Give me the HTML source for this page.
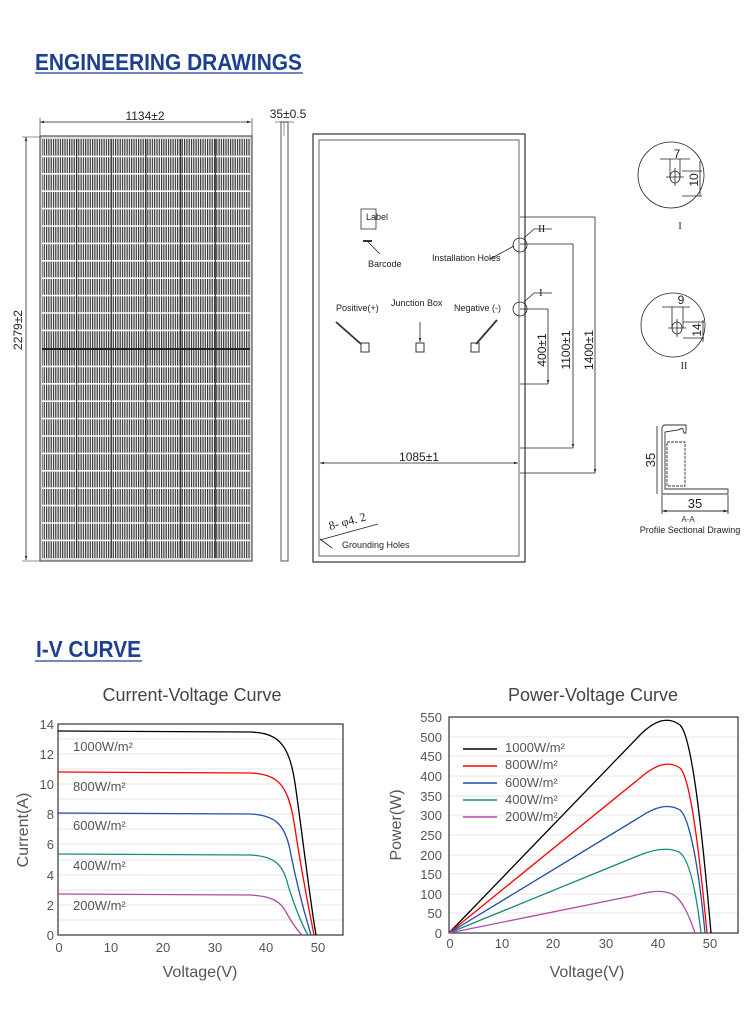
<!DOCTYPE html>
<html><head><meta charset="utf-8"><style>
html,body{margin:0;padding:0;background:#fff;}
svg{display:block;}
</style></head><body>
<svg width="750" height="1031" viewBox="0 0 750 1031" xmlns="http://www.w3.org/2000/svg" font-family="Liberation Sans, sans-serif">
<defs>
<pattern id="st" width="2.3" height="4" patternUnits="userSpaceOnUse">
<rect width="2.3" height="4" fill="#fff"/><rect width="1.2" height="4" fill="#333"/>
</pattern>
<marker id="ar" viewBox="0 0 10 10" refX="10" refY="5" markerWidth="5" markerHeight="5" orient="auto-start-reverse"><path d="M0,2 L10,5 L0,8z" fill="#222"/></marker>
</defs>

<!-- headings -->
<text x="35" y="70" font-size="23" font-weight="bold" fill="#1c3f93" textLength="267" lengthAdjust="spacingAndGlyphs">ENGINEERING DRAWINGS</text>
<rect x="35" y="72" width="268" height="2" fill="#7187bd"/>
<text x="36" y="657" font-size="23" font-weight="bold" fill="#1c3f93" textLength="105" lengthAdjust="spacingAndGlyphs">I-V CURVE</text>
<rect x="35" y="660" width="107" height="2" fill="#7187bd"/>

<!-- front panel -->
<g stroke="#222" fill="none">
<line x1="40" y1="122" x2="251" y2="122" stroke-width="0.8" marker-start="url(#ar)" marker-end="url(#ar)"/>
<line x1="40" y1="118" x2="40" y2="136" stroke-width="0.6"/>
<line x1="252" y1="118" x2="252" y2="136" stroke-width="0.6"/>
<line x1="26" y1="137" x2="26" y2="560" stroke-width="0.8" marker-start="url(#ar)" marker-end="url(#ar)"/>
<line x1="22" y1="137" x2="40" y2="137" stroke-width="0.6"/>
<line x1="22" y1="561" x2="40" y2="561" stroke-width="0.6"/>
</g>
<text x="145" y="120" font-size="12" text-anchor="middle" fill="#222">1134±2</text>
<text transform="translate(22,330) rotate(-90)" font-size="12" text-anchor="middle" fill="#222">2279±2</text>
<rect x="40" y="136" width="212" height="425" fill="#ddd" stroke="#555" stroke-width="1.2"/>
<rect x="42" y="139" width="208" height="419" fill="url(#st)"/>
<g stroke="#fff" stroke-width="1.6">
<line x1="42" y1="156.4" x2="250" y2="156.4"/><line x1="42" y1="173.8" x2="250" y2="173.8"/><line x1="42" y1="191.2" x2="250" y2="191.2"/><line x1="42" y1="208.6" x2="250" y2="208.6"/><line x1="42" y1="226" x2="250" y2="226"/><line x1="42" y1="243.4" x2="250" y2="243.4"/><line x1="42" y1="260.8" x2="250" y2="260.8"/><line x1="42" y1="278.2" x2="250" y2="278.2"/><line x1="42" y1="295.6" x2="250" y2="295.6"/><line x1="42" y1="313" x2="250" y2="313"/><line x1="42" y1="330.4" x2="250" y2="330.4"/>
<line x1="42" y1="366.4" x2="250" y2="366.4"/><line x1="42" y1="383.8" x2="250" y2="383.8"/><line x1="42" y1="401.2" x2="250" y2="401.2"/><line x1="42" y1="418.6" x2="250" y2="418.6"/><line x1="42" y1="436" x2="250" y2="436"/><line x1="42" y1="453.4" x2="250" y2="453.4"/><line x1="42" y1="470.8" x2="250" y2="470.8"/><line x1="42" y1="488.2" x2="250" y2="488.2"/><line x1="42" y1="505.6" x2="250" y2="505.6"/><line x1="42" y1="523" x2="250" y2="523"/><line x1="42" y1="540.4" x2="250" y2="540.4"/>
</g>
<g stroke="#222" stroke-width="1">
<line x1="76.7" y1="139" x2="76.7" y2="558"/><line x1="111.3" y1="139" x2="111.3" y2="558"/><line x1="146" y1="139" x2="146" y2="558"/><line x1="180.7" y1="139" x2="180.7" y2="558"/><line x1="215.3" y1="139" x2="215.3" y2="558"/>
</g>
<line x1="42" y1="349" x2="250" y2="349" stroke="#222" stroke-width="2"/>

<!-- side view -->
<rect x="281" y="122" width="7" height="439" fill="#fff" stroke="#555" stroke-width="1"/>
<line x1="284" y1="122" x2="284" y2="136" stroke="#555" stroke-width="0.6"/>
<line x1="275" y1="122" x2="294" y2="122" stroke="#222" stroke-width="0.6"/>
<text x="288" y="118" font-size="12" text-anchor="middle" fill="#222">35±0.5</text>

<!-- back panel -->
<rect x="313" y="134" width="212" height="428" fill="#fff" stroke="#333" stroke-width="1.2"/>
<rect x="319" y="140" width="200" height="416" fill="#fff" stroke="#555" stroke-width="0.9"/>
<rect x="361" y="209" width="15" height="20" fill="#fff" stroke="#333" stroke-width="0.8"/>
<text x="366" y="220" font-size="9" fill="#222">Label</text>
<rect x="363" y="240" width="9" height="2" fill="#333"/>
<line x1="368" y1="242" x2="380" y2="254" stroke="#222" stroke-width="0.8"/>
<text x="368" y="267" font-size="9" fill="#222">Barcode</text>
<text x="432" y="261" font-size="9" fill="#222">Installation Holes</text>
<line x1="490" y1="259" x2="514" y2="246" stroke="#222" stroke-width="0.8"/>
<text x="336" y="311" font-size="9" fill="#222">Positive(+)</text>
<text x="391" y="306" font-size="9" fill="#222">Junction Box</text>
<text x="454" y="311" font-size="9" fill="#222">Negative (-)</text>
<line x1="420" y1="322" x2="420" y2="342" stroke="#222" stroke-width="0.8" marker-end="url(#ar)"/>
<g fill="#fff" stroke="#333" stroke-width="1">
<rect x="361" y="343" width="8" height="9"/><rect x="416" y="343" width="8" height="9"/><rect x="471" y="343" width="8" height="9"/>
</g>
<g stroke="#333" stroke-width="1.8">
<line x1="336" y1="322" x2="361" y2="344"/><line x1="497" y1="320" x2="476" y2="344"/>
</g>
<g stroke="#222" stroke-width="0.8" fill="none">
<circle cx="520" cy="245" r="7"/><circle cx="520" cy="309" r="7"/>
<polyline points="524,238 534,229 552,229"/><polyline points="524,302 534,293 552,293"/>
<line x1="520" y1="217" x2="595" y2="217"/>
<line x1="595" y1="217" x2="595" y2="473" marker-end="url(#ar)"/>
<line x1="520" y1="473" x2="595" y2="473"/>
<line x1="520" y1="244" x2="573" y2="244"/>
<line x1="573" y1="244" x2="573" y2="448" marker-end="url(#ar)"/>
<line x1="520" y1="448" x2="573" y2="448"/>
<line x1="520" y1="309" x2="548" y2="309"/>
<line x1="548" y1="309" x2="548" y2="384" marker-end="url(#ar)"/>
<line x1="520" y1="384" x2="548" y2="384"/>
<line x1="320" y1="463" x2="518" y2="463" marker-start="url(#ar)" marker-end="url(#ar)"/>
<line x1="320" y1="540" x2="378" y2="524"/>
<line x1="320" y1="539" x2="332" y2="548"/>
</g>
<text x="538" y="232" font-size="11" font-family="Liberation Serif, serif" fill="#222">II</text>
<text x="539" y="296" font-size="11" font-family="Liberation Serif, serif" fill="#222">I</text>
<text transform="translate(546,350) rotate(-90)" font-size="12" text-anchor="middle" fill="#222">400±1</text>
<text transform="translate(570,350) rotate(-90)" font-size="12" text-anchor="middle" fill="#222">1100±1</text>
<text transform="translate(593,350) rotate(-90)" font-size="12" text-anchor="middle" fill="#222">1400±1</text>
<text x="419" y="461" font-size="12" text-anchor="middle" fill="#222">1085±1</text>
<text transform="translate(330,530) rotate(-15)" font-size="12" font-family="Liberation Serif, serif" fill="#222">8- φ4. 2</text>
<text x="342" y="548" font-size="9" fill="#222">Grounding Holes</text>

<!-- details -->
<g stroke="#222" fill="none" stroke-width="0.8">
<circle cx="671" cy="175" r="33"/>
<ellipse cx="675" cy="177" rx="5" ry="6"/>
<line x1="666" y1="177" x2="684" y2="177"/><line x1="675" y1="168" x2="675" y2="186"/>
<line x1="660" y1="159" x2="690" y2="159"/>
<line x1="670" y1="159" x2="670" y2="177"/><line x1="680" y1="159" x2="680" y2="177"/>
<line x1="682" y1="171" x2="702" y2="171"/><line x1="682" y1="196" x2="702" y2="196"/>
<line x1="700" y1="161" x2="700" y2="196"/>
<circle cx="673" cy="325" r="32"/>
<ellipse cx="677" cy="328" rx="5" ry="6"/>
<line x1="668" y1="328" x2="686" y2="328"/><line x1="677" y1="319" x2="677" y2="337"/>
<line x1="662" y1="307" x2="690" y2="307"/>
<line x1="672" y1="307" x2="672" y2="328"/><line x1="683" y1="307" x2="683" y2="328"/>
<line x1="683" y1="322" x2="704" y2="322"/><line x1="683" y1="338" x2="704" y2="338"/>
<line x1="703" y1="320" x2="703" y2="342"/>
</g>
<text x="677" y="158" font-size="12" text-anchor="middle" fill="#222">7</text>
<text transform="translate(698,180) rotate(-90)" font-size="12" text-anchor="middle" fill="#222">10</text>
<text x="681" y="304" font-size="12" text-anchor="middle" fill="#222">9</text>
<text transform="translate(701,330) rotate(-90)" font-size="12" text-anchor="middle" fill="#222">14</text>
<text x="680" y="229" font-size="10" font-family="Liberation Serif, serif" text-anchor="middle" fill="#222">I</text>
<text x="684" y="369" font-size="10" font-family="Liberation Serif, serif" text-anchor="middle" fill="#222">II</text>

<!-- profile -->
<g stroke="#333" fill="none" stroke-width="0.9">
<path d="M662,427 L662,494 L728,494 L728,489 L665,489 L665,432 L678,430 Q684,427 683,430 L684,433 L686,433 L686,425 L664,425 Z"/>
<rect x="667" y="442" width="18" height="44" stroke-dasharray="3,1"/>
<line x1="657" y1="426" x2="657" y2="494"/>
<line x1="662" y1="495" x2="662" y2="514"/><line x1="728" y1="495" x2="728" y2="514"/>
<line x1="662" y1="511" x2="728" y2="511" marker-start="url(#ar)" marker-end="url(#ar)"/>
</g>
<text transform="translate(655,460) rotate(-90)" font-size="13" text-anchor="middle" fill="#222">35</text>
<text x="695" y="508" font-size="13" text-anchor="middle" fill="#222">35</text>
<text x="688" y="522" font-size="8" text-anchor="middle" fill="#333">A-A</text>
<text x="690" y="533" font-size="9" text-anchor="middle" fill="#222">Profile Sectional Drawing</text>

<!-- IV chart -->
<text x="192" y="701" font-size="18" text-anchor="middle" fill="#444">Current-Voltage Curve</text>
<g stroke="#e6e6e6" stroke-width="1">
<line x1="58" y1="739" x2="343" y2="739"/><line x1="58" y1="754" x2="343" y2="754"/><line x1="58" y1="769" x2="343" y2="769"/><line x1="58" y1="784" x2="343" y2="784"/><line x1="58" y1="799" x2="343" y2="799"/><line x1="58" y1="814" x2="343" y2="814"/><line x1="58" y1="829" x2="343" y2="829"/><line x1="58" y1="844" x2="343" y2="844"/><line x1="58" y1="860" x2="343" y2="860"/><line x1="58" y1="875" x2="343" y2="875"/><line x1="58" y1="890" x2="343" y2="890"/><line x1="58" y1="905" x2="343" y2="905"/><line x1="58" y1="920" x2="343" y2="920"/>
</g>
<rect x="58" y="724" width="285" height="211" fill="none" stroke="#333" stroke-width="1.2"/>
<g fill="none" stroke-width="1.3">
<path d="M58,731 L250,732 C280,733 290,745 296,790 C303,840 310,900 316,935" stroke="#000"/>
<path d="M58,772 L250,773 C278,774 288,785 294,822 C300,862 308,905 314,935" stroke="#f00"/>
<path d="M58,813 L250,814 C276,815 286,825 291,855 C297,885 305,915 311,935" stroke="#1f4fa8"/>
<path d="M58,854 L250,855 C274,856 283,864 288,885 C294,905 302,925 308,935" stroke="#158a80"/>
<path d="M58,894 L250,895 C272,896 281,902 286,912 C291,921 297,930 302,935" stroke="#b04aa8"/>
</g>
<g font-size="13" fill="#555">
<text x="73" y="751">1000W/m²</text><text x="73" y="791">800W/m²</text><text x="73" y="830">600W/m²</text><text x="73" y="870">400W/m²</text><text x="73" y="910">200W/m²</text>
</g>
<g font-size="13" fill="#555" text-anchor="end">
<text x="54" y="729">14</text><text x="54" y="759">12</text><text x="54" y="789">10</text><text x="54" y="819">8</text><text x="54" y="849">6</text><text x="54" y="880">4</text><text x="54" y="910">2</text><text x="54" y="940">0</text>
</g>
<g font-size="13" fill="#555" text-anchor="middle">
<text x="59" y="952">0</text><text x="111" y="952">10</text><text x="163" y="952">20</text><text x="215" y="952">30</text><text x="266" y="952">40</text><text x="318" y="952">50</text>
</g>
<text x="200" y="977" font-size="16" text-anchor="middle" fill="#555">Voltage(V)</text>
<text transform="translate(28,830) rotate(-90)" font-size="16" text-anchor="middle" fill="#555">Current(A)</text>

<!-- PV chart -->
<text x="593" y="701" font-size="18" text-anchor="middle" fill="#444">Power-Voltage Curve</text>
<g stroke="#e6e6e6" stroke-width="1">
<line x1="449" y1="737" x2="738" y2="737"/><line x1="449" y1="756" x2="738" y2="756"/><line x1="449" y1="776" x2="738" y2="776"/><line x1="449" y1="796" x2="738" y2="796"/><line x1="449" y1="815" x2="738" y2="815"/><line x1="449" y1="835" x2="738" y2="835"/><line x1="449" y1="855" x2="738" y2="855"/><line x1="449" y1="874" x2="738" y2="874"/><line x1="449" y1="894" x2="738" y2="894"/><line x1="449" y1="913" x2="738" y2="913"/>
</g>
<rect x="449" y="717" width="289" height="216" fill="none" stroke="#333" stroke-width="1.2"/>
<g fill="none" stroke-width="1.3">
<path d="M449,933 L640,735 C655,720 668,716 680,725 C692,736 702,830 711,933" stroke="#000"/>
<path d="M449,933 L640,778 C655,765 668,760 680,768 C691,778 700,860 707,933" stroke="#f00"/>
<path d="M449,933 L640,817 C655,807 668,803 680,810 C690,818 699,870 705,933" stroke="#1f4fa8"/>
<path d="M449,933 L640,855 C655,849 668,847 679,852 C689,858 696,890 701,933" stroke="#158a80"/>
<path d="M449,933 L632,896 C648,892 660,889 672,894 C682,899 689,915 695,933" stroke="#b04aa8"/>
</g>
<g stroke-width="1.5">
<line x1="463" y1="749" x2="497" y2="749" stroke="#000"/>
<line x1="463" y1="766" x2="497" y2="766" stroke="#f00"/>
<line x1="463" y1="783" x2="497" y2="783" stroke="#1f4fa8"/>
<line x1="463" y1="800" x2="497" y2="800" stroke="#158a80"/>
<line x1="463" y1="817" x2="497" y2="817" stroke="#b04aa8"/>
</g>
<g font-size="13" fill="#555">
<text x="505" y="752">1000W/m²</text><text x="505" y="769">800W/m²</text><text x="505" y="787">600W/m²</text><text x="505" y="804">400W/m²</text><text x="505" y="821">200W/m²</text>
</g>
<g font-size="13" fill="#555" text-anchor="end">
<text x="442" y="722">550</text><text x="442" y="742">500</text><text x="442" y="761">450</text><text x="442" y="781">400</text><text x="442" y="801">350</text><text x="442" y="820">300</text><text x="442" y="840">250</text><text x="442" y="860">200</text><text x="442" y="879">150</text><text x="442" y="899">100</text><text x="442" y="918">50</text><text x="442" y="938">0</text>
</g>
<g font-size="13" fill="#555" text-anchor="middle">
<text x="450" y="948">0</text><text x="502" y="948">10</text><text x="553" y="948">20</text><text x="606" y="948">30</text><text x="658" y="948">40</text><text x="710" y="948">50</text>
</g>
<text x="587" y="977" font-size="16" text-anchor="middle" fill="#555">Voltage(V)</text>
<text transform="translate(401,825) rotate(-90)" font-size="16" text-anchor="middle" fill="#555">Power(W)</text>
</svg>
</body></html>
